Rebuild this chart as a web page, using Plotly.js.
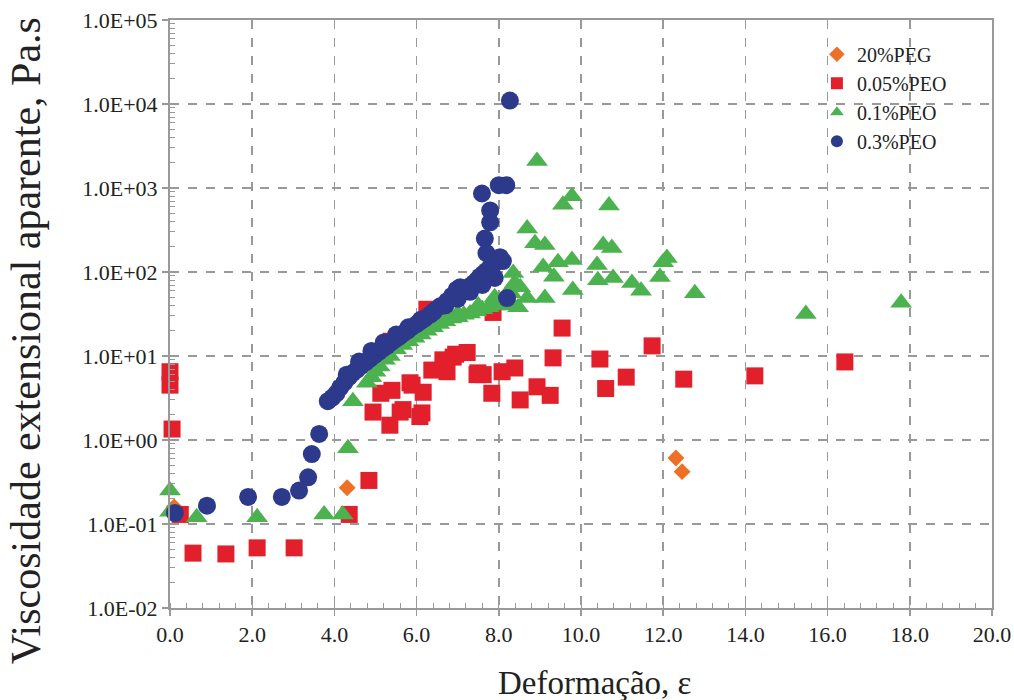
<!DOCTYPE html>
<html>
<head>
<meta charset="utf-8">
<script src="https://cdn.plot.ly/plotly-3.0.1.min.js"></script>
<style>html,body{margin:0;padding:0;background:#fff}#chart{width:1014px;height:700px}</style>
</head>
<body>
<div id="chart"></div>
<script>
// ---- Data ----
const seriesNames = ["20%PEG", "0.05%PEO", "0.1%PEO", "0.3%PEO"];
const xTitle = "Deformação, ε";
const yTitle = "Viscosidade extensional aparente, Pa.s";

const pegX = [0.1, 4.31, 12.31, 12.46];
const pegY = [0.16, 0.27, 0.61, 0.42];

const peo005X = [0.0, 0.0, 0.05, 0.25, 0.56, 1.36, 2.12, 3.02, 4.36, 4.84, 4.94, 5.13, 5.35, 5.4, 5.38, 5.6, 5.67, 5.84, 5.89, 6.08, 6.13, 6.16, 6.25, 6.37, 6.64, 6.74, 6.89, 6.95, 7.23, 7.47, 7.49, 7.62, 7.83, 7.86, 8.08, 8.39, 8.52, 8.93, 9.25, 9.32, 9.54, 10.46, 10.6, 11.1, 11.73, 12.5, 14.23, 16.42];
const peo005Y = [6.5, 4.5, 1.35, 0.13, 0.045, 0.044, 0.052, 0.052, 0.13, 0.33, 2.15, 3.6, 1.5, 3.9, 15, 2.15, 2.3, 4.8, 4.5, 1.9, 2.1, 3.7, 36, 6.8, 9.0, 6.5, 9.7, 10.5, 11, 6.0, 6.3, 6.0, 3.6, 33, 6.5, 7.2, 3.0, 4.3, 3.4, 9.5, 21.5, 9.2, 4.1, 5.6, 13.2, 5.3, 5.8, 8.5];

const peo01X = [0.0, 0.0, 0.65, 2.12, 3.75, 4.2, 4.33, 4.45, 4.79, 4.9, 5.0, 5.1, 5.23, 5.35, 5.5, 5.65, 5.8, 5.95, 6.1, 6.25, 6.4, 6.55, 6.7, 6.85, 7.0, 7.15, 7.3, 7.45, 7.6, 7.75, 7.9, 8.05, 8.2, 8.35, 8.47, 8.3, 8.39, 8.35, 8.52, 8.69, 9.12, 8.69, 8.88, 9.12, 8.93, 9.08, 9.44, 9.34, 9.78, 9.8, 9.56, 9.78, 10.68, 10.54, 10.75, 10.39, 10.41, 10.78, 11.24, 11.46, 12.09, 12.0, 11.92, 12.77, 15.47, 17.79, 5.6, 6.0, 6.5, 7.0, 7.5, 7.9, 8.25];
const peo01Y = [0.25, 0.14, 0.12, 0.12, 0.13, 0.13, 0.80, 2.9, 4.8, 5.6, 6.5, 7.5, 9, 10, 12, 13.5, 15, 16.5, 18, 20, 22, 24, 26, 28, 29, 31, 32, 34, 36, 38, 40, 42, 45, 40, 38, 56, 74, 97, 66, 49, 49, 330, 220, 210, 2100, 115, 131, 88, 139, 61, 630, 800, 620, 210, 193, 121, 80, 85, 74, 60, 147, 131, 87, 56, 31.6, 43, 15, 19, 25, 32, 40, 50, 60];

const peo03X = [0.12, 0.9, 1.9, 2.72, 3.14, 3.36, 3.45, 3.63, 3.84, 3.95, 4.05, 4.14, 4.25, 4.35, 4.45, 4.55, 4.65, 4.76, 4.87, 4.98, 5.08, 5.18, 5.28, 5.38, 5.48, 5.58, 5.67, 5.78, 5.88, 6.0, 6.1, 6.2, 6.33, 6.45, 6.57, 6.74, 6.86, 6.98, 7.06, 7.2, 7.3, 7.4, 7.47, 7.54, 7.62, 7.7, 7.79, 7.86, 7.98, 8.1, 8.03, 7.7, 7.66, 7.79, 7.79, 7.59, 8.0, 8.18, 8.27, 8.2, 4.3, 4.6, 4.9, 5.2, 5.5, 5.8, 6.1, 6.4, 6.7, 7.0, 7.3, 7.6, 7.9];
const peo03Y = [0.135, 0.165, 0.21, 0.21, 0.25, 0.36, 0.68, 1.18, 2.9, 3.2, 3.6, 4.2, 4.9, 5.6, 6.3, 6.9, 7.6, 8.4, 9.3, 10.3, 11.2, 12.2, 13.2, 14.5, 15.8, 17, 18.5, 20, 22, 24, 26, 28, 31, 35, 39, 45, 52, 62, 66, 62, 68, 74, 80, 88, 95, 103, 114, 120, 140, 135, 150, 168, 250, 390, 540, 860, 1080, 1080, 11000, 49, 6.0, 8.6, 11.5, 14.5, 18, 22, 27, 33, 40, 48, 58, 70, 85];

const yTickVals = [0.01, 0.1, 1, 10, 100, 1000, 10000, 100000];
const yTickText = ["1.0E-02", "1.0E-01", "1.0E+00", "1.0E+01", "1.0E+02", "1.0E+03", "1.0E+04", "1.0E+05"];

// ---- Styles ----
const colors = ["#EE7027", "#E2202C", "#4CB24F", "#2D3A8C"];
const symbols = ["diamond", "square", "triangle-up", "circle"];
const sizes = [13, 17, 19, 18];
const serif = "Liberation Serif, Times New Roman, serif";

const xs = [pegX, peo005X, peo01X, peo03X];
const ys = [pegY, peo005Y, peo01Y, peo03Y];

const traces = seriesNames.map((name, i) => ({
  type: "scatter",
  mode: "markers",
  name: name,
  x: xs[i],
  y: ys[i],
  marker: { symbol: symbols[i], color: colors[i], size: sizes[i], line: { width: 0 } },
  cliponaxis: false
}));

// minor log ticks
const minorY = [];
for (let e = -2; e < 5; e++) {
  for (let d = 2; d <= 9; d++) minorY.push(d * Math.pow(10, e));
}

const axisCommon = {
  showgrid: true,
  gridcolor: "#999",
  griddash: "dash",
  gridwidth: 1.5,
  zeroline: false,
  showline: true,
  linecolor: "#999",
  linewidth: 2,
  mirror: true,
  ticks: "outside",
  ticklen: 6,
  tickwidth: 1.5,
  tickcolor: "#999",
  tickfont: { family: serif, size: 22, color: "#222" }
};

const layout = {
  width: 1014,
  height: 700,
  margin: { l: 170, r: 22, t: 20, b: 92 },
  paper_bgcolor: "#ffffff",
  plot_bgcolor: "#ffffff",
  font: { family: serif, color: "#222" },
  showlegend: true,
  legend: {
    x: 0.787, y: 0.975, xanchor: "left", yanchor: "top",
    bgcolor: "rgba(0,0,0,0)",
    font: { family: serif, size: 20, color: "#222" },
    itemsizing: "constant",
    itemwidth: 30
  },
  xaxis: Object.assign({}, axisCommon, {
    range: [0, 20],
    dtick: 2,
    tickformat: ".1f",
    minor: { dtick: 0.4, ticks: "inside", ticklen: 5, tickwidth: 1, tickcolor: "#999", showgrid: false }
  }),
  yaxis: Object.assign({}, axisCommon, {
    type: "log",
    range: [-2, 5],
    tickmode: "array",
    tickvals: yTickVals,
    ticktext: yTickText,
    minor: { tickmode: "array", tickvals: minorY, ticks: "inside", ticklen: 5, tickwidth: 1, tickcolor: "#999", showgrid: false }
  }),
  annotations: [
    {
      text: xTitle, xref: "paper", yref: "paper", x: 0.517, y: -0.1276,
      xanchor: "center", yanchor: "middle", showarrow: false,
      font: { family: serif, size: 33, color: "#222" }
    },
    {
      text: yTitle, xref: "paper", yref: "paper", x: -0.175, y: 0.454,
      xanchor: "center", yanchor: "middle", showarrow: false, textangle: -90,
      font: { family: serif, size: 42, color: "#222" }
    }
  ]
};

Plotly.newPlot("chart", traces, layout, { displayModeBar: false, staticPlot: true });
</script>
</body>
</html>
